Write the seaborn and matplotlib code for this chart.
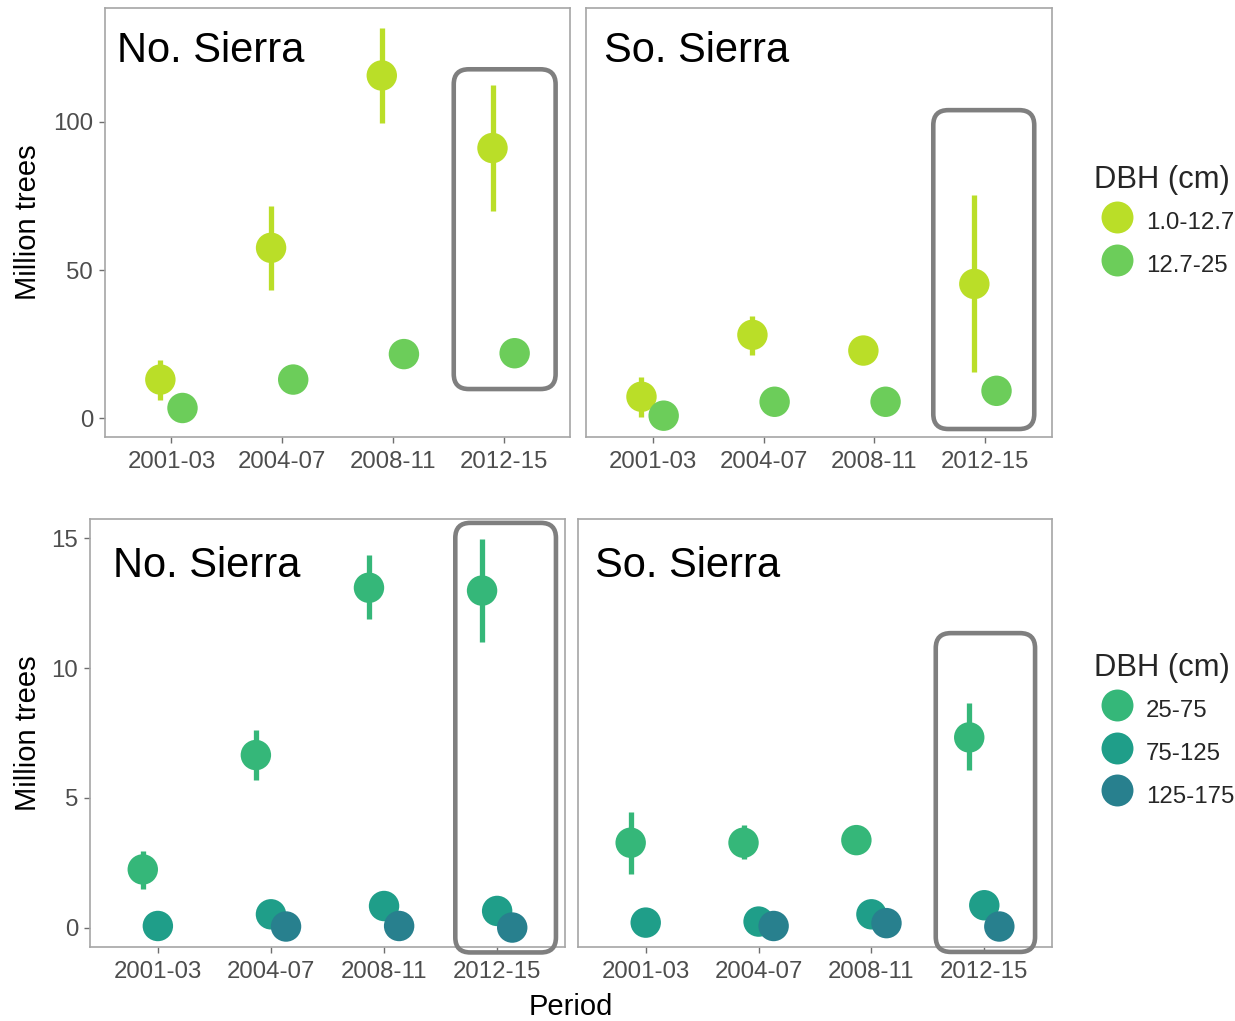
import numpy as np
import pandas as pd
import matplotlib
matplotlib.use("Agg")
import matplotlib.pyplot as plt
import seaborn as sns
from matplotlib.patches import FancyBboxPatch
from matplotlib.transforms import IdentityTransform
from matplotlib.lines import Line2D

# ---------------- data (million trees) ----------------
periods = ["2001-03", "2004-07", "2008-11", "2012-15"]
regions = ["No. Sierra", "So. Sierra"]
small_dbh = ["1.0-12.7", "12.7-25"]
large_dbh = ["25-75", "75-125", "125-175"]
nan = np.nan

# No. Sierra, small classes
no_a_mean = [13.0, 57.5, 115.7, 91.2]
no_a_lo = [6.2, 43.1, 99.5, 70.0]
no_a_hi = [19.6, 71.5, 131.8, 112.4]
no_b_mean = [3.4, 13.0, 21.6, 21.9]
no_b_lo = [nan, nan, nan, nan]
no_b_hi = [nan, nan, nan, nan]
# So. Sierra, small classes
so_a_mean = [7.2, 28.1, 22.8, 45.3]
so_a_lo = [0.2, 21.4, nan, 15.4]
so_a_hi = [13.8, 34.6, nan, 75.5]
so_b_mean = [0.8, 5.5, 5.5, 9.2]
so_b_lo = [nan, nan, nan, nan]
so_b_hi = [nan, nan, nan, nan]

# No. Sierra, large classes
no_c_mean = [2.24, 6.65, 13.1, 12.99]
no_c_lo = [1.5, 5.7, 11.9, 10.99]
no_c_hi = [2.97, 7.63, 14.36, 14.96]
no_d_mean = [0.06, 0.51, 0.83, 0.64]
no_e_mean = [nan, 0.04, 0.06, 0.0]
# So. Sierra, large classes
so_c_mean = [3.27, 3.27, 3.37, 7.33]
so_c_lo = [2.05, 2.63, nan, 6.06]
so_c_hi = [4.45, 3.94, nan, 8.65]
so_d_mean = [0.19, 0.23, 0.51, 0.86]
so_e_mean = [nan, 0.06, 0.17, 0.04]

nans4 = [nan] * 4
series = [
    # (row, region, dbh, mean, lo, hi)
    ("small", "No. Sierra", "1.0-12.7", no_a_mean, no_a_lo, no_a_hi),
    ("small", "No. Sierra", "12.7-25", no_b_mean, no_b_lo, no_b_hi),
    ("small", "So. Sierra", "1.0-12.7", so_a_mean, so_a_lo, so_a_hi),
    ("small", "So. Sierra", "12.7-25", so_b_mean, so_b_lo, so_b_hi),
    ("large", "No. Sierra", "25-75", no_c_mean, no_c_lo, no_c_hi),
    ("large", "No. Sierra", "75-125", no_d_mean, nans4, nans4),
    ("large", "No. Sierra", "125-175", no_e_mean, nans4, nans4),
    ("large", "So. Sierra", "25-75", so_c_mean, so_c_lo, so_c_hi),
    ("large", "So. Sierra", "75-125", so_d_mean, nans4, nans4),
    ("large", "So. Sierra", "125-175", so_e_mean, nans4, nans4),
]

palette = {
    "1.0-12.7": "#BADE28",
    "12.7-25": "#6CCD5A",
    "25-75": "#35B779",
    "75-125": "#1F9E89",
    "125-175": "#28808E",
}

records = []
for row, reg, dbh, m, lo, hi in series:
    for p, mv, lv, hv in zip(periods, m, lo, hi):
        records.append(dict(row=row, region=reg, dbh=dbh, period=p,
                            value=mv, lo=lv, hi=hv))
df = pd.DataFrame(records)

# ---------------- style ----------------
sns.set_style("white")
plt.rcParams["font.family"] = ["Liberation Sans", "DejaVu Sans"]

W, H = 1235, 1021
fig = plt.figure(figsize=(W / 100, H / 100), dpi=100)

def px_axes(x0, x1, y0, y1):
    return fig.add_axes([x0 / W, 1 - y1 / H, (x1 - x0) / W, (y1 - y0) / H])

axes = {
    ("small", "No. Sierra"): px_axes(105, 570, 8, 437),
    ("small", "So. Sierra"): px_axes(586, 1052, 8, 437),
    ("large", "No. Sierra"): px_axes(90, 565, 519, 947),
    ("large", "So. Sierra"): px_axes(578, 1052, 519, 947),
}
row_levels = {"small": small_dbh, "large": large_dbh}
row_ylim = {"small": (-6.4, 138.5), "large": (-0.75, 15.75)}
row_yticks = {"small": [0, 50, 100], "large": [0, 5, 10, 15]}
dodge_width = 0.4

# highlight boxes (annotation, in data units: x0, x1, y0, y1)
highlight = {
    ("small", "No. Sierra"): (2.55, 3.47, 9.8, 117.8),
    ("small", "So. Sierra"): (2.53, 3.44, -3.7, 104.0),
    ("large", "No. Sierra"): (2.63, 3.52, -0.96, 15.6),
    ("large", "So. Sierra"): (2.57, 3.45, -0.94, 11.35),
}
label_pos = {
    ("small", "No. Sierra"): (0.026, 0.874),
    ("small", "So. Sierra"): (0.038, 0.874),
    ("large", "No. Sierra"): (0.048, 0.864),
    ("large", "So. Sierra"): (0.036, 0.864),
}

tick_color = "#4D4D4D"
for (row, reg), ax in axes.items():
    levels = row_levels[row]
    n = len(levels)
    sub = df[(df.row == row) & (df.region == reg)].copy()
    sub["dbh"] = pd.Categorical(sub["dbh"], categories=levels, ordered=True)
    sub = sub.sort_values("dbh")
    pidx = sub["period"].map({p: i for i, p in enumerate(periods)})
    didx = sub["dbh"].cat.codes
    sub["xpos"] = pidx + dodge_width / n * (didx - (n - 1) / 2)
    sub = sub.dropna(subset=["value"])

    eb = sub.dropna(subset=["lo", "hi"])
    ax.vlines(eb["xpos"], eb["lo"], eb["hi"],
              colors=[palette[d] for d in eb["dbh"]], lw=3.8, zorder=2)
    sns.scatterplot(data=sub, x="xpos", y="value", hue="dbh",
                    hue_order=levels, palette=palette, s=480,
                    linewidth=0, edgecolor="none", legend=False,
                    ax=ax, zorder=3)

    ax.set_xlim(-0.6, 3.6)
    ax.set_ylim(*row_ylim[row])
    ax.set_xticks(range(len(periods)))
    ax.set_xticklabels(periods)
    ax.set_yticks(row_yticks[row])
    ax.set_xlabel("")
    ax.set_ylabel("")
    ax.grid(False)
    for sp in ax.spines.values():
        sp.set_color("#A6A6A6")
        sp.set_linewidth(1.2)
    ax.tick_params(axis="both", which="both", direction="out", length=4.5,
                   width=1.0, color="#6E6E6E", labelcolor=tick_color,
                   labelsize=17.3, pad=4, bottom=True, left=True)
    ax.tick_params(axis="x", pad=5.5)
    if reg == "So. Sierra":
        ax.tick_params(axis="y", left=False, labelleft=False)
    else:
        ax.set_ylabel("Million trees", fontsize=21, color="black")
        ax.yaxis.set_label_coords((42 - ax.get_position().x0 * W) /
                                  (ax.get_position().width * W), 0.5)

    ax.text(*label_pos[(row, reg)], reg, transform=ax.transAxes,
            ha="left", va="baseline", fontsize=30, color="black")

    # rounded highlight box drawn in pixel space so corners stay round
    x0, x1, y0, y1 = highlight[(row, reg)]
    (dx0, dy0), (dx1, dy1) = ax.transData.transform([(x0, y0), (x1, y1)])
    box = FancyBboxPatch((dx0, dy0), dx1 - dx0, dy1 - dy0,
                         boxstyle="round,pad=0,rounding_size=15",
                         transform=IdentityTransform(), fill=False,
                         ec="#7F7F7F", lw=3.3, clip_on=False, zorder=5)
    fig.add_artist(box)

# legends
def add_legend(ax, levels, top_px):
    handles = [Line2D([], [], ls="none", marker="o", markersize=23,
                      markerfacecolor=palette[l], markeredgecolor="none")
               for l in levels]
    leg = ax.legend(handles, levels, title="DBH (cm)", loc="upper left",
                    bbox_to_anchor=(1094 / W, 1 - top_px / H),
                    bbox_transform=fig.transFigure, frameon=False,
                    fontsize=17.3, title_fontsize=22.3, borderpad=0,
                    borderaxespad=0, handlelength=1.95, handletextpad=0.2,
                    handleheight=1.75, labelspacing=0.4, alignment="left")
    return leg

add_legend(axes[("small", "So. Sierra")], small_dbh, 165)
add_legend(axes[("large", "So. Sierra")], large_dbh, 653)

fig.text(571 / W, 1 - 1007 / H, "Period", ha="center", va="center",
         fontsize=21, color="black")

fig.savefig("out.png", dpi=100)
